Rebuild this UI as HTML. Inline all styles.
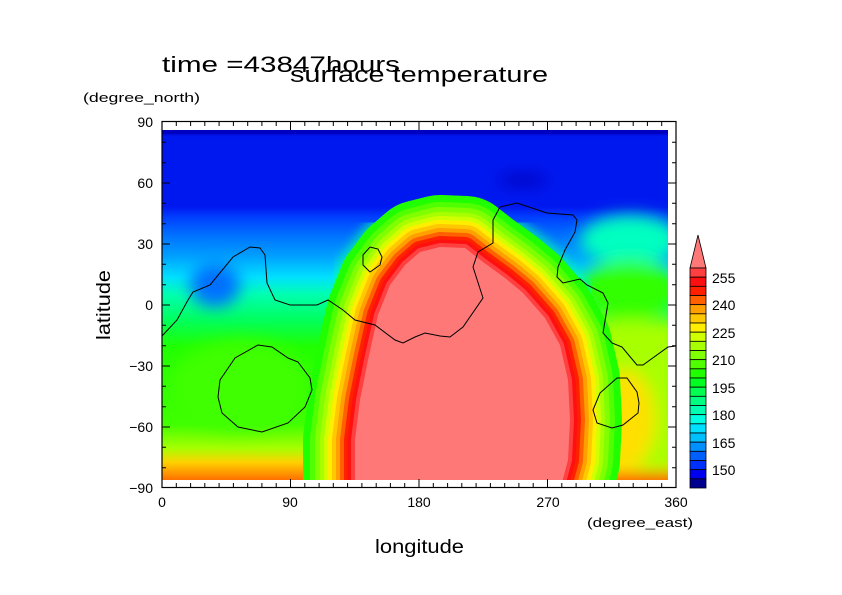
<!DOCTYPE html>
<html><head><meta charset="utf-8"><style>
html,body{margin:0;padding:0;background:#fff;}
svg{display:block;font-family:"Liberation Sans",sans-serif;}
</style></head><body>
<svg width="842" height="595" viewBox="0 0 842 595" xmlns="http://www.w3.org/2000/svg">
<defs>
<linearGradient id="bg" x1="0" y1="130" x2="0" y2="480" gradientUnits="userSpaceOnUse">
<stop offset="0" stop-color="#0000c0"/>
<stop offset="0.02" stop-color="#0018f0"/>
<stop offset="0.22" stop-color="#0018f0"/>
<stop offset="0.25" stop-color="#0040ff"/>
<stop offset="0.30" stop-color="#0070ff"/>
<stop offset="0.36" stop-color="#00a0ff"/>
<stop offset="0.42" stop-color="#00e0ff"/>
<stop offset="0.47" stop-color="#00ffb0"/>
<stop offset="0.54" stop-color="#00ff60"/>
<stop offset="0.62" stop-color="#20ff00"/>
<stop offset="0.84" stop-color="#40ff00"/>
<stop offset="0.91" stop-color="#a8ff00"/>
<stop offset="0.95" stop-color="#ffd000"/>
<stop offset="1" stop-color="#ff7000"/>
</linearGradient>
<clipPath id="fc"><rect x="162" y="130" width="506" height="350"/></clipPath>
<filter id="bl"><feGaussianBlur stdDeviation="8"/></filter>
<filter id="bl2"><feGaussianBlur stdDeviation="5"/></filter>
<path id="blob" d="M355,490 L355,440 L360,400 L368,360 L378,315 L390,285 L405,265 L420,252 L440,247 L465,248 L483,262 L505,278 L523,293 L545,318 L560,345 L568,380 L570,420 L568,460 L560,490 Z"/>
</defs>
<g clip-path="url(#fc)">
<rect x="162" y="130" width="506" height="350" fill="url(#bg)"/>
<g filter="url(#bl)">
<ellipse cx="215" cy="285" rx="25" ry="22" fill="#0070ff"/>
<ellipse cx="240" cy="385" rx="70" ry="45" fill="#40ff00"/>
<rect x="590" y="320" width="90" height="150" fill="#a8ff00"/>
<ellipse cx="625" cy="420" rx="30" ry="50" fill="#ffe000"/>
<ellipse cx="630" cy="240" rx="50" ry="25" fill="#00ffc0"/>
<ellipse cx="630" cy="290" rx="50" ry="30" fill="#30ff00"/>
<ellipse cx="523" cy="180" rx="25" ry="6" fill="#0000c0"/>
</g>
<use href="#blob" fill="none" stroke="#00ffa0" stroke-width="112" filter="url(#bl2)" opacity="0.7"/>
<g fill="none" stroke-linejoin="round">
<use href="#blob" stroke="#20ff00" stroke-width="104"/>
<use href="#blob" stroke="#50ff00" stroke-width="90"/>
<use href="#blob" stroke="#80ff00" stroke-width="80"/>
<use href="#blob" stroke="#a8ff00" stroke-width="70"/>
<use href="#blob" stroke="#d0ff00" stroke-width="62"/>
<use href="#blob" stroke="#ffee00" stroke-width="54"/>
<use href="#blob" stroke="#ffc800" stroke-width="46"/>
<use href="#blob" stroke="#ffa000" stroke-width="38"/>
<use href="#blob" stroke="#ff6000" stroke-width="30"/>
<use href="#blob" stroke="#ff2000" stroke-width="22"/>
<use href="#blob" stroke="#ff1010" stroke-width="15"/>
<use href="#blob" stroke="#ff4040" stroke-width="8"/>
</g>
<use href="#blob" fill="#ff7878"/>
<rect x="162" y="130" width="506" height="4" fill="#0000c0"/>
</g>
<!-- contours -->
<g fill="none" stroke="#000" stroke-width="1">
<polyline points="162,336 177,320 188,300 193,292 210,285 233,257 250,247 260,248 265,255 267,283 275,300 290,305 317,305 328,300 343,310 355,320 375,325 395,340 403,343 415,337 425,333 440,336 450,337 463,327 483,298 473,267 478,252 493,243 493,220 500,207 517,203 547,213 573,215 577,220 575,232 565,250 558,267 557,277 563,283 580,279 587,285 603,293 608,303 603,333 612,343 622,347 637,365 643,365 668,347 676,346"/>
<polygon points="363,255 370,247 378,249 382,257 380,265 370,272 363,265"/>
<polygon points="218,397 220,380 235,358 258,345 272,347 288,358 298,362 310,378 312,390 305,407 288,423 262,432 238,427 222,413"/>
<polygon points="593,410 600,393 617,378 627,378 637,392 639,403 638,413 623,425 612,428 597,423"/>
</g>
<!-- frame -->
<rect x="162" y="121.5" width="514" height="366" fill="none" stroke="#000" stroke-width="1.2"/>
<g stroke="#000" stroke-width="1">
<path d="M162,122v8M290.5,122v8M419,122v8M547.5,122v8M676,122v8M162,487v-8M290.5,487v-8M419,487v-8M547.5,487v-8M676,487v-8"/>
<path d="M176.3,122v4M190.6,122v4M204.8,122v4M219.1,122v4M233.4,122v4M247.7,122v4M261.9,122v4M276.2,122v4M304.8,122v4M319.1,122v4M333.3,122v4M347.6,122v4M361.9,122v4M376.2,122v4M390.4,122v4M404.7,122v4M433.3,122v4M447.6,122v4M461.8,122v4M476.1,122v4M490.4,122v4M504.7,122v4M518.9,122v4M533.2,122v4M561.8,122v4M576.1,122v4M590.3,122v4M604.6,122v4M618.9,122v4M633.2,122v4M647.4,122v4M661.7,122v4"/>
<path d="M176.3,487v-4M190.6,487v-4M204.8,487v-4M219.1,487v-4M233.4,487v-4M247.7,487v-4M261.9,487v-4M276.2,487v-4M304.8,487v-4M319.1,487v-4M333.3,487v-4M347.6,487v-4M361.9,487v-4M376.2,487v-4M390.4,487v-4M404.7,487v-4M433.3,487v-4M447.6,487v-4M461.8,487v-4M476.1,487v-4M490.4,487v-4M504.7,487v-4M518.9,487v-4M533.2,487v-4M561.8,487v-4M576.1,487v-4M590.3,487v-4M604.6,487v-4M618.9,487v-4M633.2,487v-4M647.4,487v-4M661.7,487v-4"/>
<path d="M162,183h8M162,244h8M162,305h8M162,366h8M162,427h8M676,183h-8M676,244h-8M676,305h-8M676,366h-8M676,427h-8"/>
<path d="M162,142.3h4M162,162.7h4M162,203.3h4M162,223.7h4M162,264.3h4M162,284.7h4M162,325.3h4M162,345.7h4M162,386.3h4M162,406.7h4M162,447.3h4M162,467.7h4M676,142.3h-4M676,162.7h-4M676,203.3h-4M676,223.7h-4M676,264.3h-4M676,284.7h-4M676,325.3h-4M676,345.7h-4M676,386.3h-4M676,406.7h-4M676,447.3h-4M676,467.7h-4"/>
</g>
<!-- labels -->
<g font-size="14" fill="#000">
<g text-anchor="end">
<text x="153" y="127">90</text><text x="153" y="188">60</text><text x="153" y="249">30</text><text x="153" y="310">0</text>
<text x="153" y="371">−30</text><text x="153" y="432">−60</text><text x="153" y="493">−90</text>
</g>
<g text-anchor="middle">
<text x="162" y="507">0</text><text x="290" y="507">90</text><text x="419" y="507">180</text><text x="548" y="507">270</text><text x="676" y="507">360</text>
</g>
</g>
<text x="83" y="102" font-size="13" textLength="117" lengthAdjust="spacingAndGlyphs">(degree_north)</text>
<text x="587" y="527" font-size="13" textLength="106" lengthAdjust="spacingAndGlyphs">(degree_east)</text>
<text x="375" y="553" font-size="19" textLength="89" lengthAdjust="spacingAndGlyphs">longitude</text>
<text x="110" y="340" font-size="19" textLength="70" lengthAdjust="spacingAndGlyphs" transform="rotate(-90 110 340)">latitude</text>
<text x="162" y="72" font-size="22" textLength="238" lengthAdjust="spacingAndGlyphs">time =43847hours</text>
<text x="290" y="82" font-size="22" textLength="258" lengthAdjust="spacingAndGlyphs">surface temperature</text>
<!-- colorbar -->
<g stroke="#000" stroke-width="0.8">
<polygon points="690,268 698,235 706,268" fill="#ff7878"/>
<rect x="690" y="268" width="16" height="9.17" fill="#ff4040"/>
<rect x="690" y="277.17" width="16" height="9.17" fill="#ff1010"/>
<rect x="690" y="286.33" width="16" height="9.17" fill="#ff2000"/>
<rect x="690" y="295.5" width="16" height="9.17" fill="#ff6000"/>
<rect x="690" y="304.67" width="16" height="9.17" fill="#ffa000"/>
<rect x="690" y="313.83" width="16" height="9.17" fill="#ffc800"/>
<rect x="690" y="323" width="16" height="9.17" fill="#ffee00"/>
<rect x="690" y="332.17" width="16" height="9.17" fill="#d0ff00"/>
<rect x="690" y="341.33" width="16" height="9.17" fill="#a8ff00"/>
<rect x="690" y="350.5" width="16" height="9.17" fill="#80ff00"/>
<rect x="690" y="359.67" width="16" height="9.17" fill="#50ff00"/>
<rect x="690" y="368.83" width="16" height="9.17" fill="#20ff00"/>
<rect x="690" y="378" width="16" height="9.17" fill="#00ff20"/>
<rect x="690" y="387.17" width="16" height="9.17" fill="#00ff50"/>
<rect x="690" y="396.33" width="16" height="9.17" fill="#00ff80"/>
<rect x="690" y="405.5" width="16" height="9.17" fill="#00ffb0"/>
<rect x="690" y="414.67" width="16" height="9.17" fill="#00ffe0"/>
<rect x="690" y="423.83" width="16" height="9.17" fill="#00e0ff"/>
<rect x="690" y="433" width="16" height="9.17" fill="#00c0ff"/>
<rect x="690" y="442.17" width="16" height="9.17" fill="#0090ff"/>
<rect x="690" y="451.33" width="16" height="9.17" fill="#0060ff"/>
<rect x="690" y="460.5" width="16" height="9.17" fill="#0030ff"/>
<rect x="690" y="469.67" width="16" height="9.17" fill="#0000f0"/>
<rect x="690" y="478.83" width="16" height="9.17" fill="#000090"/>
</g>
<g font-size="14">
<text x="712" y="283">255</text><text x="712" y="310">240</text><text x="712" y="338">225</text><text x="712" y="365">210</text>
<text x="712" y="393">195</text><text x="712" y="420">180</text><text x="712" y="448">165</text><text x="712" y="475">150</text>
</g>
</svg>
</body></html>
